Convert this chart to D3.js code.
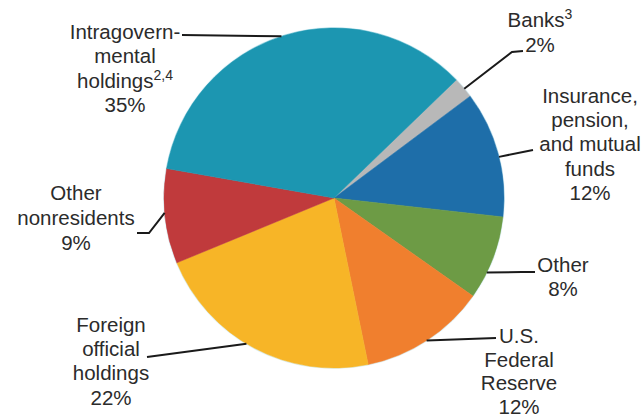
<!DOCTYPE html>
<html>
<head>
<meta charset="utf-8">
<script src="https://cdn.jsdelivr.net/npm/d3@7"></script>
<style>
  body { margin: 0; background: #fff; }
  svg { display: block; }
  text { font-family: "Liberation Sans", Arial, sans-serif; fill: #2b2b2b; }
</style>
</head>
<body>
<svg width="644" height="418"></svg>
<script>
// slices go clockwise, starting at the Banks wedge
var categories = ['Banks', 'Insurance, pension, and mutual funds', 'Other', 'U.S. Federal Reserve',
    'Foreign official holdings', 'Other nonresidents', 'Intragovernmental holdings'];
var shares = [2, 12, 8, 12, 22, 9, 35];
var colors = ['#b8b8b8', '#1e6ea9', '#6d9b45', '#f07f2e', '#f7b527', '#c03a3c', '#1c96b1'];

// label lines (last line is the percent), '|' marks a superscript
var labelLines = [
    ['Banks|3', '2%'],
    ['Insurance,', 'pension,', 'and mutual', 'funds', '12%'],
    ['Other', '8%'],
    ['U.S.', 'Federal', 'Reserve', '12%'],
    ['Foreign', 'official', 'holdings', '22%'],
    ['Other', 'nonresidents', '9%'],
    ['Intragovern-', 'mental', 'holdings|2,4', '35%']
];

var svg = d3.select('svg');
var cx = 334, cy = 198, radius = 170;

var g = svg.append('g')
    .attr('transform', 'translate(' + cx + ',' + cy + ')');

var startDeg = 46;
var pie = d3.pie()
    .sort(null)
    .value(function(d){ return d; })
    .startAngle(startDeg * Math.PI / 180)
    .endAngle((startDeg + 360) * Math.PI / 180);

var arc = d3.arc().innerRadius(0).outerRadius(radius);
var arcs = pie(shares);

g.append('circle')
    .attr('r', radius + 1)
    .attr('fill', '#dff3f8');

g.selectAll('path')
    .data(arcs)
    .enter()
    .append('path')
    .attr('d', arc)
    .attr('fill', function(d, i){ return colors[i]; })
    .attr('stroke', function(d, i){ return colors[i]; })
    .attr('stroke-width', 0.5);

// where each label sits: center x, first baseline, line gap, and the leader line
var labelPos = [
    {x: 540, y: 27, gap: 24.5, anchorDeg: 50, line: [[512, 52], [523, 51]]},
    {x: 590, y: 103, gap: 24.2, anchorDeg: 76, line: [[533, 150]]},
    {x: 563, y: 272, gap: 23.5, anchorDeg: 116, line: [[522, 272], [535, 272]]},
    {x: 519, y: 343, gap: 23.5, anchorDeg: 147, line: [[496, 338]]},
    {x: 111, y: 332, gap: 24.2, anchorDeg: 211, line: [[147, 357]]},
    {x: 76, y: 200, gap: 25, anchorDeg: 265, line: [[149, 233], [137, 233]]},
    {x: 125, y: 39, gap: 24.3, anchorDeg: 342, line: [[182, 35]]}
];

var fontSize = 20.5;

labelPos.forEach(function(p, i){
    var a = p.anchorDeg * Math.PI / 180;
    var pts = [[cx + radius * Math.sin(a), cy - radius * Math.cos(a)]].concat(p.line);
    svg.append('path')
        .attr('d', d3.line()(pts))
        .attr('fill', 'none')
        .attr('stroke', '#1a1a1a')
        .attr('stroke-width', 2);

    var t = svg.append('text')
        .attr('text-anchor', 'middle')
        .attr('font-size', fontSize);
    labelLines[i].forEach(function(s, k){
        var parts = s.split('|');
        t.append('tspan')
            .attr('x', p.x)
            .attr('y', p.y + k * p.gap)
            .text(parts[0]);
        if (parts[1]) {
            t.append('tspan')
                .attr('font-size', 14)
                .attr('dy', -8)
                .text(parts[1]);
        }
    });
});
</script>
</body>
</html>
